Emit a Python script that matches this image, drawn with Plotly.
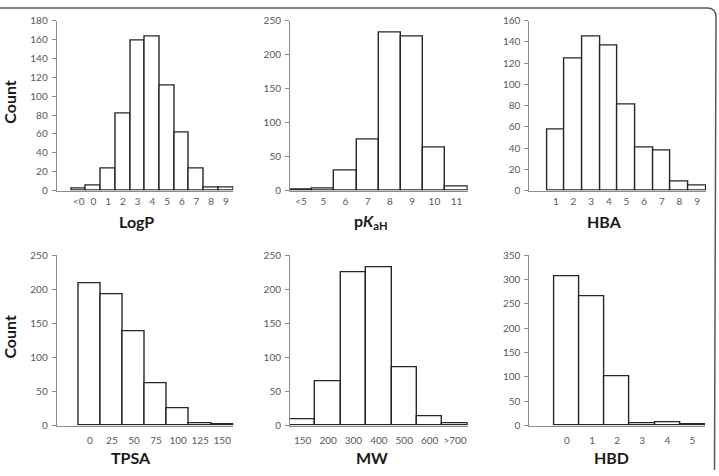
import plotly.graph_objects as go

W, H = 719, 476

# ---- data ----
logp_labels = ["<0", "0", "1", "2", "3", "4", "5", "6", "7", "8", "9"]
logp_counts = [2, 5, 23, 82, 159, 163, 111, 61, 23, 3, 3]

pka_labels = ["<5", "5", "6", "7", "8", "9", "10", "11"]
pka_counts = [2, 3, 30, 75, 232, 227, 63, 6]

hba_labels = ["1", "2", "3", "4", "5", "6", "7", "8", "9"]
hba_counts = [57, 124, 145, 136, 81, 40, 38, 8, 5]

tpsa_labels = ["0", "25", "50", "75", "100", "125", "150"]
tpsa_counts = [209, 193, 139, 62, 25, 3, 2]

mw_labels = ["150", "200", "300", "400", "500", "600", ">700"]
mw_counts = [9, 65, 225, 233, 85, 14, 4]

hbd_labels = ["0", "1", "2", "3", "4", "5"]
hbd_counts = [306, 266, 101, 4, 7, 2]

panels = [
    dict(lab=logp_labels, val=logp_counts, title="<b>LogP</b>", ymax=180, dt=20, lead=1,
         x=(56.7, 233.3), y=(14, 188.7), tpos=(136, 221), count=True),
    dict(lab=pka_labels, val=pka_counts, title="<b>p<i>K</i><sub>aH</sub></b>", ymax=250, dt=50, lead=0,
         x=(290, 467.7), y=(14, 188.7), tpos=(371, 221), count=False),
    dict(lab=hba_labels, val=hba_counts, title="<b>HBA</b>", ymax=160, dt=20, lead=1,
         x=(529.3, 706), y=(14, 188.7), tpos=(604.5, 221), count=False),
    dict(lab=tpsa_labels, val=tpsa_counts, title="<b>TPSA</b>", ymax=250, dt=50, lead=1,
         x=(56.7, 233.3), y=(255.3, 430.3), tpos=(131, 463), count=True),
    dict(lab=mw_labels, val=mw_counts, title="<b>MW</b>", ymax=250, dt=50, lead=0,
         x=(290, 467.7), y=(255.3, 430.3), tpos=(372, 463), count=False),
    dict(lab=hbd_labels, val=hbd_counts, title="<b>HBD</b>", ymax=350, dt=50, lead=1,
         x=(529.3, 705), y=(255.3, 430.3), tpos=(611, 463), count=False),
]

fig = go.Figure()
tick_font = dict(family="Lato, Open Sans, sans-serif", size=10, color="#595959")
title_font = dict(family="Lato, Open Sans, sans-serif", size=16, color="#1a1a1a")
axis_col = "#8c8c8c"

annotations = []
for i, p in enumerate(panels):
    n = i + 1
    xa = "x" if n == 1 else f"x{n}"
    ya = "y" if n == 1 else f"y{n}"
    fig.add_trace(go.Bar(
        x=p["lab"], y=p["val"], xaxis=xa, yaxis=ya,
        marker=dict(color="white", line=dict(color="#262626", width=1.4)),
        showlegend=False, hoverinfo="x+y",
    ))
    nb = len(p["lab"])
    xkey = "xaxis" if n == 1 else f"xaxis{n}"
    ykey = "yaxis" if n == 1 else f"yaxis{n}"
    fig.layout[xkey] = dict(
        domain=[p["x"][0] / W, p["x"][1] / W], anchor=ya,
        type="category", categoryorder="array", categoryarray=p["lab"],
        range=[-0.5 - p["lead"], nb - 0.5],
        showline=True, linecolor=axis_col, linewidth=1,
        ticks="outside", ticklen=1 if n <= 3 else 5, tickcolor="rgba(0,0,0,0)",
        showgrid=False, zeroline=False,
        tickfont=tick_font,
        fixedrange=True,
    )
    fig.layout[ykey] = dict(
        domain=[1 - p["y"][1] / H, 1 - p["y"][0] / H], anchor=xa,
        range=[0, p["ymax"]], dtick=p["dt"], tick0=0,
        showline=True, linecolor=axis_col, linewidth=1,
        ticks="outside", ticklen=4, tickcolor=axis_col,
        showgrid=False, zeroline=False, tickfont=tick_font,
        ticklabelstandoff=2, fixedrange=True,
    )
    annotations.append(dict(
        text=p["title"], x=p["tpos"][0] / W, y=1 - p["tpos"][1] / H,
        xref="paper", yref="paper", showarrow=False, xanchor="center", yanchor="middle",
        font=title_font,
    ))
    if p["count"]:
        yc = (p["y"][0] + p["y"][1]) / 2 - 4
        annotations.append(dict(
            text="<b>Count</b>", x=10 / W, y=1 - yc / H, textangle=-90,
            xref="paper", yref="paper", showarrow=False, xanchor="center", yanchor="middle",
            font=title_font,
        ))

def px(xv, yv):
    return f"{xv / W:.5f},{1 - yv / H:.5f}"

border = (f"M {px(0, 1)} L {px(707, 1)} Q {px(716, 1)} {px(716, 10)} L {px(714.5, 476)}")
shapes = [dict(type="path", path=border, xref="paper", yref="paper",
               line=dict(color="#5a5a5a", width=1.5))]

fig.update_layout(
    width=W, height=H, margin=dict(l=0, r=0, t=0, b=0),
    paper_bgcolor="white", plot_bgcolor="white",
    bargap=0, annotations=annotations, shapes=shapes,
)

fig.write_html("out.html")
